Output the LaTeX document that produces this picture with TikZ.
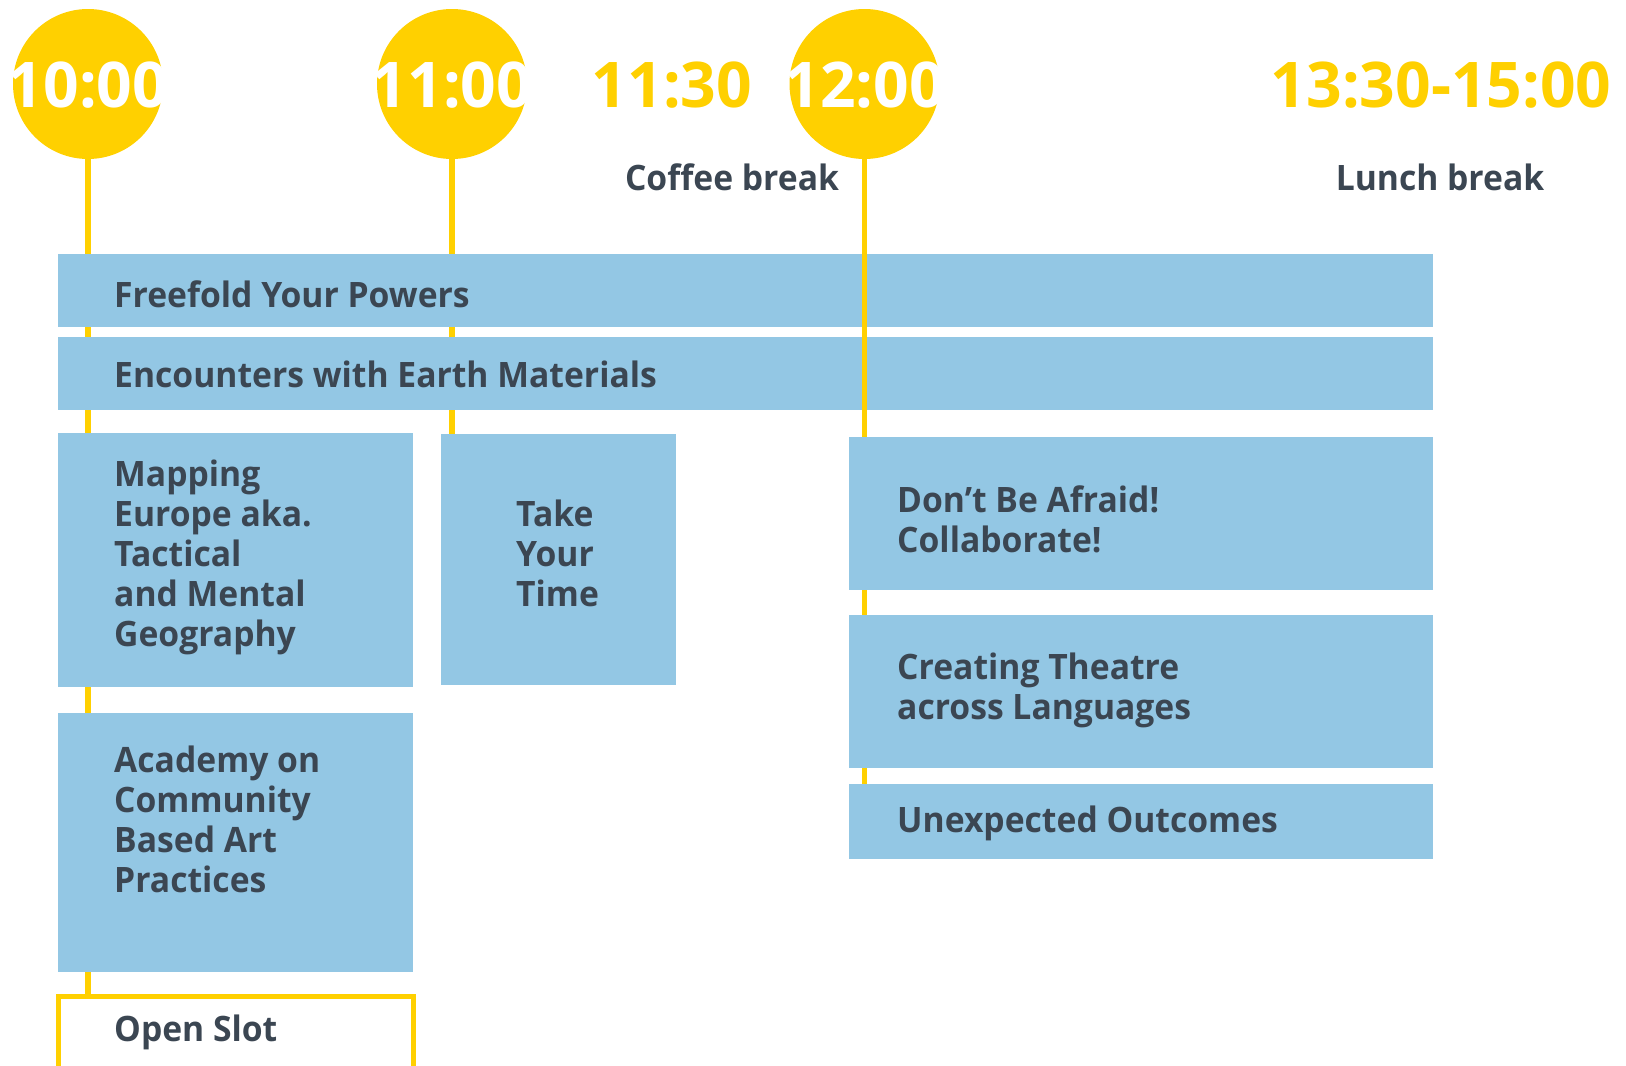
\documentclass[tikz,border=0pt]{standalone}
\usepackage{fontspec}
\setmainfont{Open Sans}
\newfontfamily\lblfont{Open Sans}[FakeStretch=0.962]
\newfontfamily\clkfont{Open Sans}[FakeStretch=0.99]
\definecolor{tyellow}{RGB}{255,208,0}
\definecolor{tblue}{RGB}{147,199,228}
\definecolor{tdark}{RGB}{59,70,82}
\pgfdeclarelayer{bg}
\pgfsetlayers{bg,main}
\begin{document}
\begin{tikzpicture}[x=1pt,y=-1pt,
  slot/.style={rectangle,fill=tblue,draw=none,inner sep=0pt,outer sep=0pt,anchor=north west},
  openslot/.style={rectangle,draw=tyellow,line width=5pt,inner sep=0pt,outer sep=0pt,anchor=north west},
  dot/.style={circle,fill=tyellow,draw=none,inner sep=0pt,outer sep=0pt,minimum size=150pt},
  clock/.style={anchor=base,inner sep=0pt,text=white,font=\clkfont\bfseries\fontsize{63}{63}\selectfont},
  yclock/.style={clock,text=tyellow},
  brk/.style={anchor=base,inner sep=0pt,text=tdark,font=\lblfont\bfseries\fontsize{35}{40}\selectfont},
  lbl/.style={anchor=base west,inner sep=0pt,text=tdark,font=\lblfont\bfseries\fontsize{35}{40}\selectfont},
  stem/.style={draw=tyellow,line width=5.5pt}
]
\useasboundingbox (0,0) rectangle (1626,1066);
\clip (0,0) rectangle (1626,1066);

% time circles
\node[dot] (c10) at (88,84) {};
\node[dot] (c11) at (452,84) {};
\node[dot] (c12) at (864.5,84) {};
\node[clock] (t10) at (88,107) {10:00};
\node[clock] (t11) at (452,107) {11:00};
\node[clock] (t12) at (864.5,107) {12:00};
\node[yclock] (t1130) at (672,107) {11:30};
\node[yclock] (t1330) at (1441,107) {13:30-15:00};
\node[brk] (coffee) at (732,190) {Coffee break};
\node[brk] (lunch) at (1440,190) {Lunch break};

% session boxes
\node[slot,minimum width=1375pt,minimum height=73pt] (free) at (58,254) {};
\node[slot,minimum width=1375pt,minimum height=73pt] (enc) at (58,337) {};
\node[slot,minimum width=355pt,minimum height=254pt] (map) at (58,433) {};
\node[slot,minimum width=235pt,minimum height=251pt] (take) at (441,434) {};
\node[slot,minimum width=355pt,minimum height=259pt] (acad) at (58,713) {};
\node[slot,minimum width=584pt,minimum height=153pt] (dont) at (849,437) {};
\node[slot,minimum width=584pt,minimum height=153pt] (creat) at (849,615) {};
\node[slot,minimum width=584pt,minimum height=75pt] (unexp) at (849,784) {};
\node[openslot,minimum width=355pt,minimum height=150pt] (open) at (58.5,996.5) {};

% 12:00 line runs over the two long bars
\draw[stem] (c12.south) -- (c12.south |- dont.north);

% session titles
\node[lbl] (lfree) at (114,307) {Freefold Your Powers};
\node[lbl] (lenc) at (114,387) {Encounters with Earth Materials};
\node[lbl] (lmap) at (114,486) {\parbox[t]{290pt}{Mapping\\Europe aka.\\Tactical\\and Mental\\Geography}};
\node[lbl] (ltake) at (516,526) {\parbox[t]{150pt}{Take\\Your\\Time}};
\node[lbl] (lacad) at (114,772) {\parbox[t]{290pt}{Academy on\\Community\\Based Art\\Practices}};
\node[lbl] (ldont) at (897,512) {\parbox[t]{500pt}{Don’t Be Afraid!\\Collaborate!}};
\node[lbl] (lcreat) at (897,679) {\parbox[t]{500pt}{Creating Theatre\\across Languages}};
\node[lbl] (lunexp) at (897,832) {Unexpected Outcomes};
\node[lbl] (lopen) at (114,1041) {Open Slot};

% time lines behind the boxes
\begin{pgfonlayer}{bg}
\draw[stem] (c10.south) -- (c10.south |- open.north);
\draw[stem] (c11.south) -- (c11.south |- take.north);
\draw[stem] (c12.south) -- (c12.south |- unexp.north);
\end{pgfonlayer}
\end{tikzpicture}
\end{document}
